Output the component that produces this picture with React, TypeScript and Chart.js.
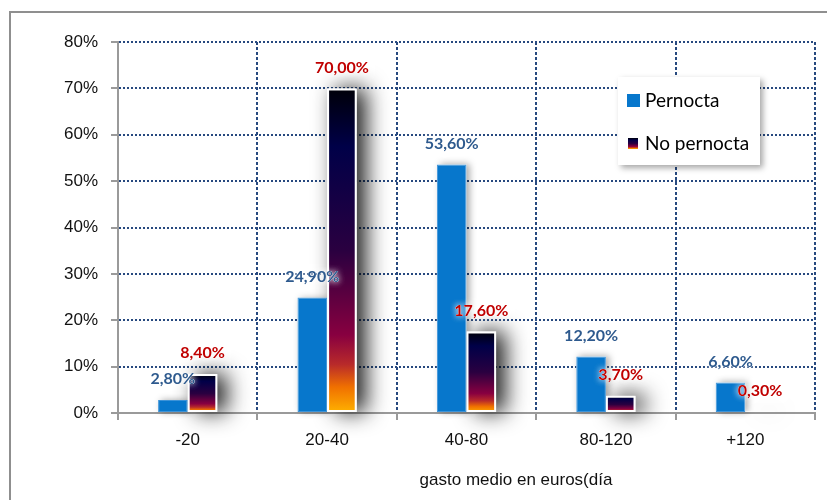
import React, { useEffect, useRef } from 'react';
import { Chart, registerables } from 'chart.js';

Chart.register(...registerables);

const categories = ['-20', '20-40', '40-80', '80-120', '+120'];
const pernocta = [2.8, 24.9, 53.6, 12.2, 6.6];
const noPernocta = [8.4, 70.0, 17.6, 3.7, 0.3];
const seriesNames = ['Pernocta', 'No pernocta'];
const yMin = 0;
const yMax = 80;
const yStep = 10;
const xTitle = 'gasto medio en euros(día';

const BLUE = '#0777CC';
const BLUE_EDGE = '#3d93d8';
const LABEL_BLUE = '#2E5A8E';
const LABEL_RED = '#C00000';
const GRID = '#27497f';
const AXIS = '#9a9a9a';
const TICK_FONT = { family: '"Liberation Sans", Arial, sans-serif', size: 17 };

const gradStops: [number, string][] = [
  [0, '#FFB300'],
  [0.08, '#F07000'],
  [0.15, '#B82A2A'],
  [0.24, '#880040'],
  [0.5, '#2A0040'],
  [0.82, '#000048'],
  [1, '#000008'],
];

function makeGrad(ctx: CanvasRenderingContext2D, bottom: number, top: number) {
  const g = ctx.createLinearGradient(0, bottom, 0, top);
  gradStops.forEach(([o, c]) => g.addColorStop(o, c));
  return g;
}

const fmt = (v: number) => v.toFixed(2).replace('.', ',') + '%';

const shadowPlugin = {
  id: 'barShadows',
  beforeDatasetsDraw(chart: any) {
    const ctx = chart.ctx as CanvasRenderingContext2D;
    [0, 1].forEach((di) => {
      const meta = chart.getDatasetMeta(di);
      const s =
        di === 1
          ? { color: 'rgba(0,0,0,0.9)', blur: 22, ox: 9, oy: 0 }
          : { color: 'rgba(0,0,0,0.35)', blur: 7, ox: 3, oy: 0 };
      ctx.save();
      ctx.shadowColor = s.color;
      ctx.shadowBlur = s.blur;
      ctx.shadowOffsetX = s.ox;
      ctx.shadowOffsetY = s.oy;
      ctx.fillStyle = '#ffffff';
      meta.data.forEach((el: any) => {
        const { x, y, base, width } = el.getProps(['x', 'y', 'base', 'width'], true);
        const h = Math.abs(base - y);
        if (h > 0) ctx.fillRect(x - width / 2, Math.min(y, base), width, h);
      });
      ctx.restore();
    });
  },
};

const labelPlugin = {
  id: 'valueLabels',
  afterDatasetsDraw(chart: any) {
    const ctx = chart.ctx as CanvasRenderingContext2D;
    ctx.save();
    ctx.font = 'bold 16px Lato, "Open Sans", sans-serif';
    ctx.textAlign = 'center';
    ctx.textBaseline = 'middle';
    chart.data.datasets.forEach((ds: any, di: number) => {
      const meta = chart.getDatasetMeta(di);
      meta.data.forEach((el: any, i: number) => {
        const { x, y } = el.getProps(['x', 'y'], true);
        const ty = y - 21;
        // soft white glow behind the text
        ctx.save();
        ctx.shadowColor = 'rgba(255,255,255,0.95)';
        ctx.shadowBlur = 6;
        ctx.fillStyle = 'rgba(255,255,255,0.9)';
        ctx.fillText(fmt(ds.data[i]), x, ty);
        ctx.fillText(fmt(ds.data[i]), x, ty);
        ctx.restore();
        ctx.fillStyle = di === 0 ? LABEL_BLUE : LABEL_RED;
        ctx.fillText(fmt(ds.data[i]), x, ty);
      });
    });
    ctx.restore();
  },
};

const legendPlugin = {
  id: 'boxLegend',
  afterDraw(chart: any) {
    const ctx = chart.ctx as CanvasRenderingContext2D;
    const area = chart.chartArea;
    const bx = area.right - 197;
    const by = area.top + 35;
    const bw = 142;
    const bh = 88;
    ctx.save();
    ctx.shadowColor = 'rgba(0,0,0,0.35)';
    ctx.shadowBlur = 6;
    ctx.shadowOffsetX = 3;
    ctx.shadowOffsetY = 3;
    ctx.fillStyle = '#ffffff';
    ctx.fillRect(bx, by, bw, bh);
    ctx.restore();

    ctx.save();
    ctx.fillStyle = BLUE;
    ctx.fillRect(bx + 9, by + 17, 13, 13);
    ctx.fillStyle = makeGrad(ctx, by + 72, by + 61);
    ctx.fillRect(bx + 10, by + 61, 10, 11);
    ctx.font = '19px Lato, "Open Sans", sans-serif';
    ctx.fillStyle = '#000000';
    ctx.textAlign = 'left';
    ctx.textBaseline = 'middle';
    ctx.fillText(seriesNames[0], bx + 27, by + 24);
    ctx.fillText(seriesNames[1], bx + 27, by + 67);
    ctx.restore();
  },
};

const titlePlugin = {
  id: 'xTitle',
  afterDraw(chart: any) {
    const ctx = chart.ctx as CanvasRenderingContext2D;
    const area = chart.chartArea;
    ctx.save();
    ctx.font = '17px "Liberation Sans", Arial, sans-serif';
    ctx.fillStyle = '#111111';
    ctx.textAlign = 'center';
    ctx.textBaseline = 'middle';
    ctx.fillText(xTitle, area.left + 0.571 * (area.right - area.left), area.bottom + 67);
    ctx.restore();
  },
};

export default function App() {
  const ref = useRef<HTMLCanvasElement | null>(null);

  useEffect(() => {
    if (!ref.current) return;
    const chart = new Chart(ref.current, {
      type: 'bar',
      data: {
        labels: categories,
        datasets: [
          {
            label: seriesNames[0],
            data: pernocta,
            backgroundColor: BLUE,
            borderColor: BLUE_EDGE,
            borderWidth: 1,
            borderSkipped: false,
            categoryPercentage: 0.425,
            barPercentage: 1,
          },
          {
            label: seriesNames[1],
            data: noPernocta,
            backgroundColor: (c: any) => {
              const chart = c.chart;
              const y = chart.scales && chart.scales.y;
              if (c.type !== 'data' || !y) return '#2A0040';
              const top = y.getPixelForValue(c.raw);
              const base = y.getPixelForValue(0);
              if (!isFinite(top) || !isFinite(base)) return '#2A0040';
              return makeGrad(chart.ctx, base, top);
            },
            borderColor: '#ffffff',
            borderWidth: 2,
            borderSkipped: false,
            categoryPercentage: 0.425,
            barPercentage: 1,
          },
        ],
      },
      options: {
        responsive: false,
        animation: false,
        layout: { padding: { top: 42, right: 12, left: 0, bottom: 0 } },
        plugins: {
          legend: { display: false },
          tooltip: { enabled: false },
          title: { display: false },
        },
        scales: {
          x: {
            offset: true,
            grid: {
              offset: true,
              color: (c: any) => (c.index === 0 ? 'rgba(0,0,0,0)' : GRID),
              lineWidth: 2,
              tickColor: AXIS,
              tickLength: 7,
              tickWidth: 2,
            },
            border: { color: AXIS, width: 2, dash: [3, 2] },
            ticks: { font: TICK_FONT, color: '#111111', padding: 10 },
            afterFit: (s: any) => {
              s.height = 87;
            },
          },
          y: {
            min: yMin,
            max: yMax,
            ticks: {
              stepSize: yStep,
              callback: (v: any) => v + '%',
              font: TICK_FONT,
              color: '#111111',
              padding: 13,
            },
            grid: {
              color: (c: any) => (c.tick && c.tick.value === 0 ? 'rgba(0,0,0,0)' : GRID),
              lineWidth: 2,
              tickColor: AXIS,
              tickLength: 7,
              tickWidth: 2,
            },
            border: { color: AXIS, width: 2, dash: [2, 2] },
            afterFit: (s: any) => {
              s.width = 118;
            },
          },
        },
      },
      plugins: [shadowPlugin, labelPlugin, legendPlugin, titlePlugin],
    } as any);
    return () => chart.destroy();
  }, []);

  return (
    <div
      style={{
        position: 'fixed',
        left: 0,
        top: 0,
        width: 827,
        height: 500,
        background: '#ffffff',
        overflow: 'hidden',
      }}
    >
      <div
        style={{
          position: 'absolute',
          left: 9,
          top: 11,
          width: 1000,
          height: 1000,
          border: '2px solid #8f8f8f',
        }}
      />
      <canvas
        ref={ref}
        width={827}
        height={500}
        style={{ position: 'absolute', left: 0, top: 0, width: 827, height: 500 }}
      />
    </div>
  );
}
